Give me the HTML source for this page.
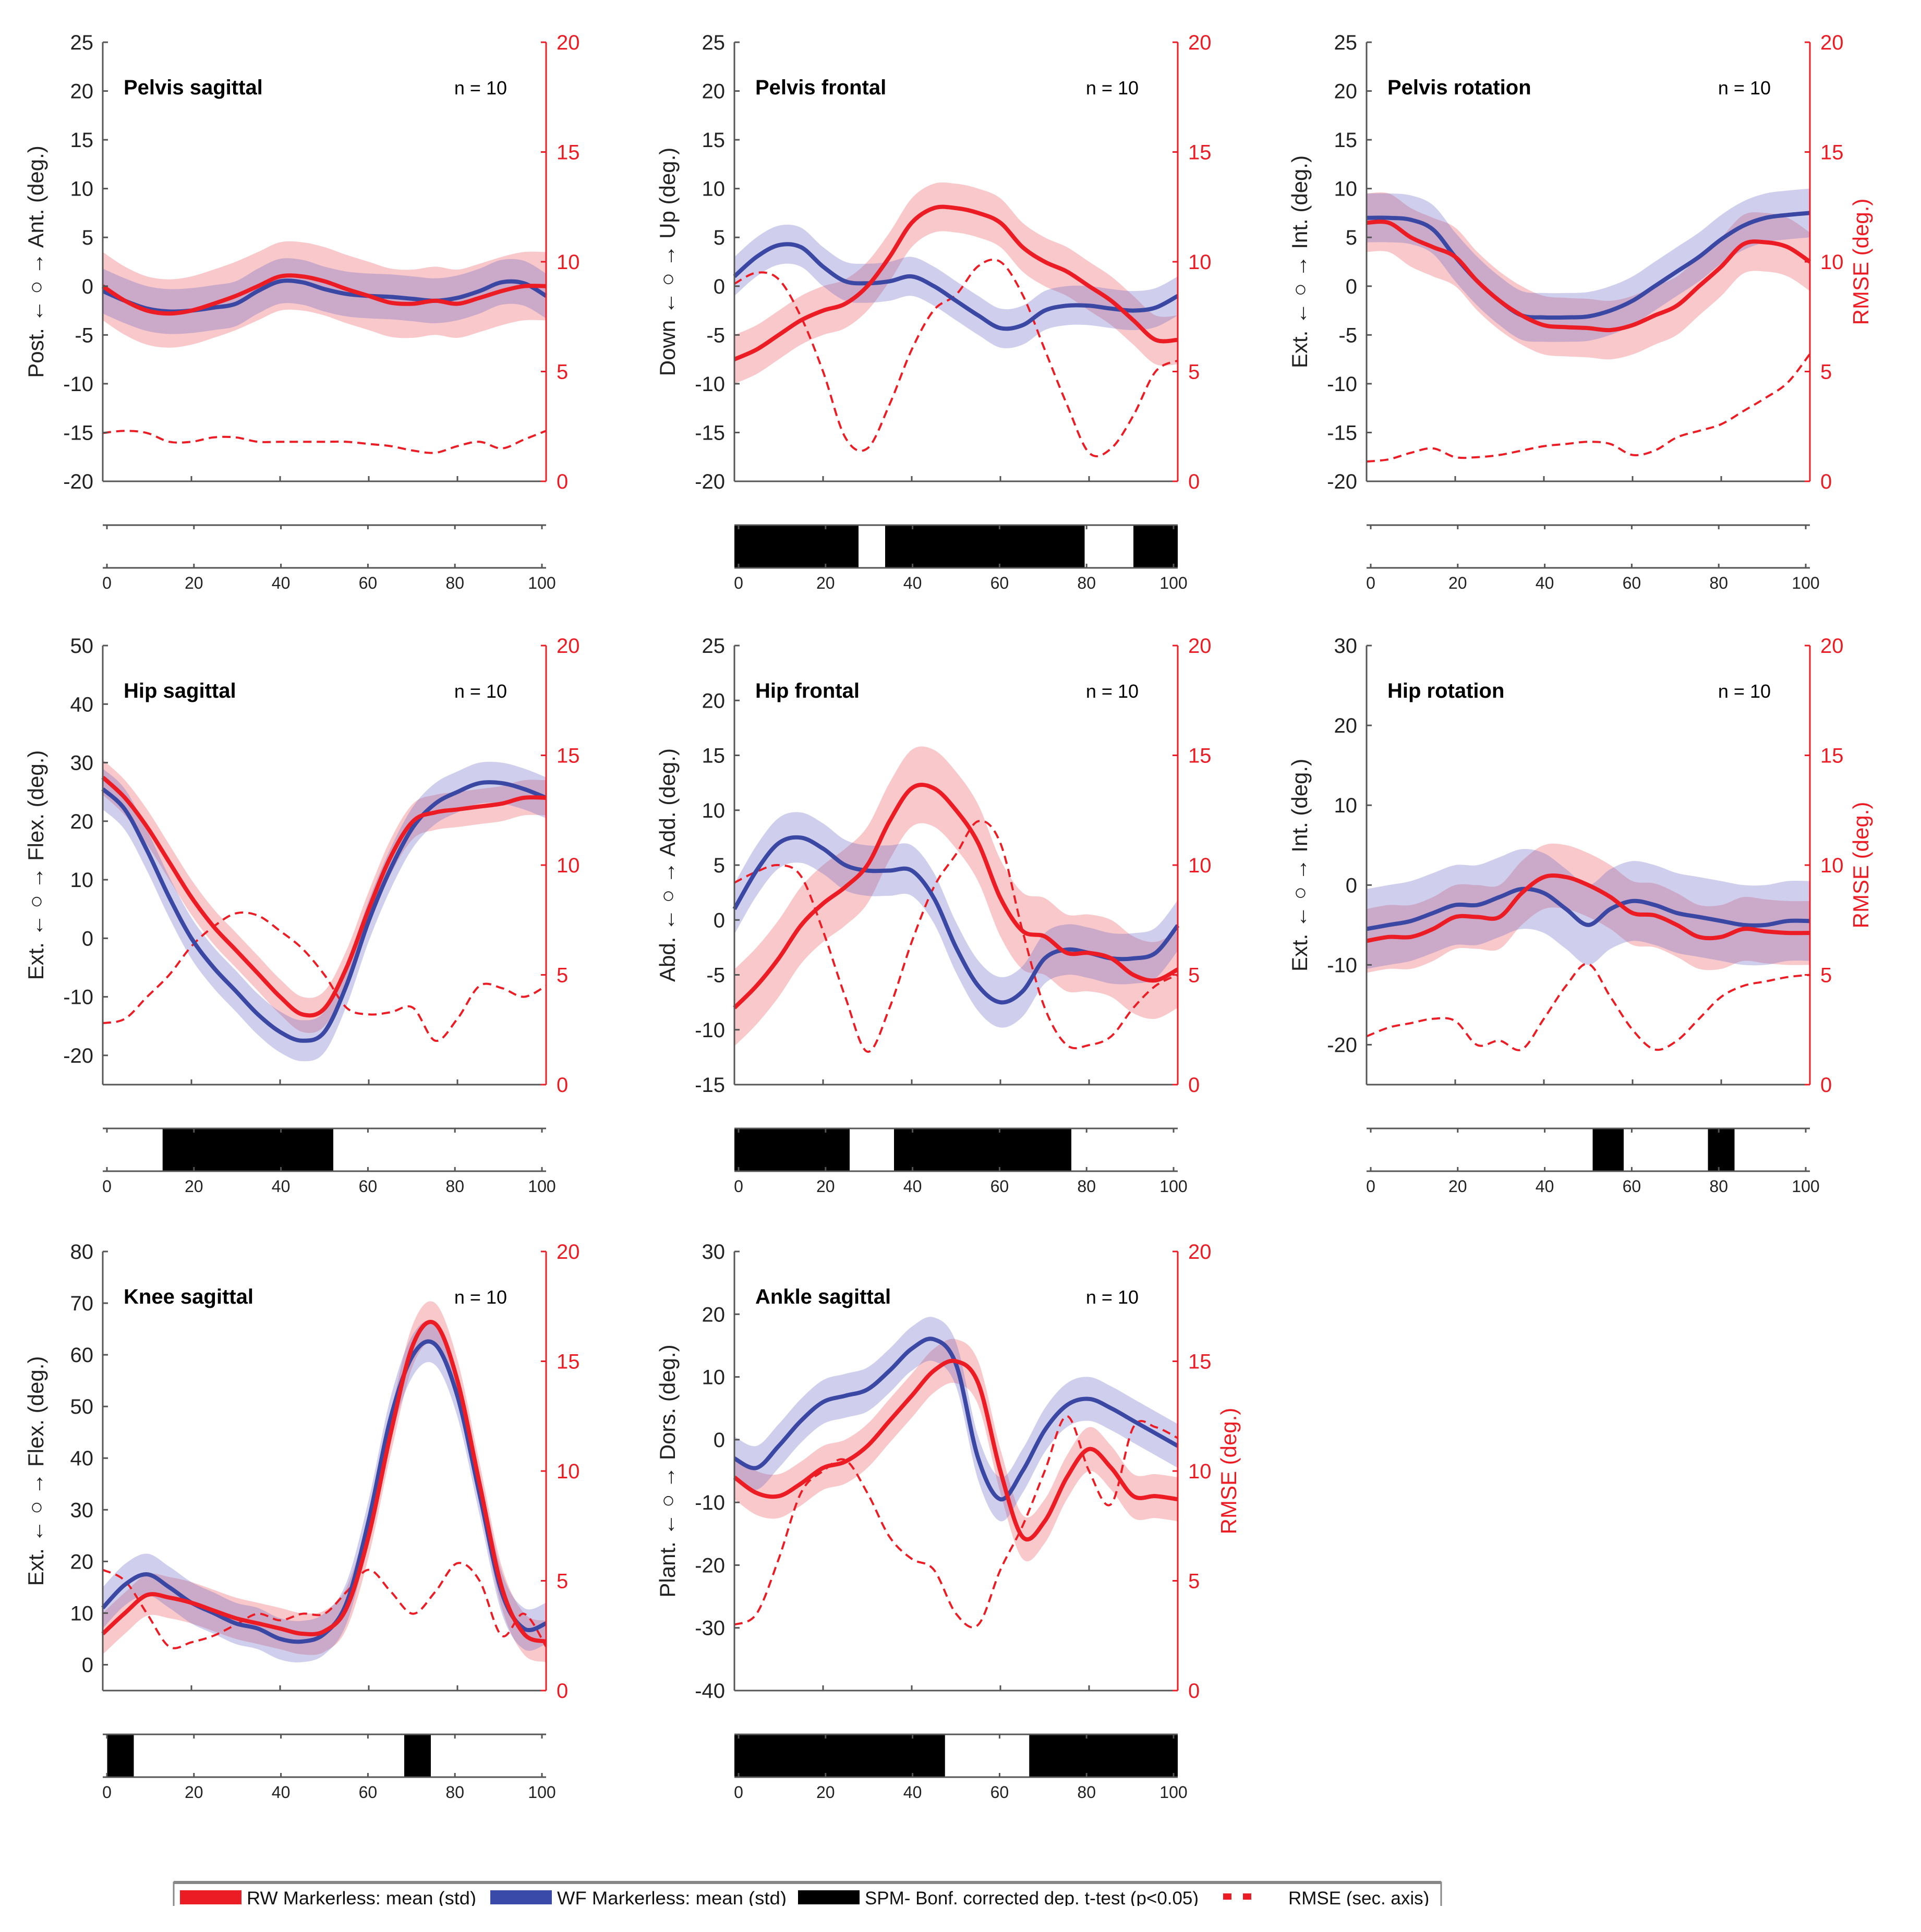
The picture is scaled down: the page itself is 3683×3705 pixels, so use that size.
<!DOCTYPE html>
<html><head><meta charset="utf-8"><style>
html,body{margin:0;padding:0;background:#fff}
svg{display:block}
text{font-family:"Liberation Sans",sans-serif}
</style></head><body>
<svg id="c" width="3683" height="3705" viewBox="0 0 3683 3705" xmlns="http://www.w3.org/2000/svg"></svg>
<script>
const xs=[0,5,10,15,20,25,30,35,40,45,50,55,60,65,70,75,80,85,90,95,100];
const titles=["Pelvis sagittal","Pelvis frontal","Pelvis rotation","Hip sagittal","Hip frontal","Hip rotation","Knee sagittal","Ankle sagittal"];
const ylabels=["Post. ← ○ → Ant. (deg.)","Down ← ○ → Up  (deg.)","Ext. ← ○ → Int.  (deg.)","Ext. ← ○ → Flex. (deg.)","Abd. ← ○ → Add. (deg.)","Ext. ← ○ → Int. (deg.)","Ext. ← ○ → Flex. (deg.)","Plant. ← ○ → Dors. (deg.)"];
const yranges=[[-20,25,5],[-20,25,5],[-20,25,5],[-25,50,10],[-15,25,5],[-25,30,10],[-5,80,10],[-40,30,10]];
const redMean=[
[0,-1.5,-2.5,-2.8,-2.5,-1.8,-1,0,1,1,0.5,-0.3,-1,-1.7,-1.8,-1.5,-1.8,-1.2,-0.5,0,0],
[-7.5,-6.5,-5,-3.5,-2.5,-1.8,0,3,6.5,8,8,7.5,6.5,4,2.5,1.5,0,-1.5,-3.5,-5.5,-5.5],
[6.5,6.5,5,4,3,0.5,-1.5,-3,-4,-4.2,-4.3,-4.5,-4,-3,-2,0,2,4.3,4.5,4,2.5],
[27.5,24,19,13,7,2,-2,-6,-10,-13,-12,-5,5,14,20,21.5,22,22.5,23,24,24],
[-8,-6,-3.5,-0.5,1.5,3,5,9,12,12,10,7,2,-1,-1.5,-3,-3,-3.5,-5,-5.5,-4.5],
[-7,-6.5,-6.5,-5.5,-4,-4,-4,-1,1,1,0,-1.5,-3.5,-3.8,-5,-6.5,-6.5,-5.5,-5.8,-6,-6],
[6,10,13.5,13,12,10.5,9,8,7,6,6.5,11,25,45,62,66,55,35,15,6,4.5],
[-6,-8.5,-9,-7,-4.5,-3.5,-1,3,7,11,12.5,9,-5,-15.5,-13,-6,-1.5,-4.5,-9,-9,-9.5]];
const redStd=[3.5,2.5,3,3,3.5,4,4,3.5];
const blueMean=[
[-0.5,-1.5,-2.3,-2.6,-2.5,-2.2,-1.8,-0.5,0.5,0.4,-0.3,-0.8,-1,-1.1,-1.3,-1.5,-1.2,-0.5,0.4,0.3,-1],
[1,3,4.2,4,2,0.5,0.3,0.5,1,0,-1.5,-3,-4.3,-4,-2.5,-2,-2,-2.3,-2.5,-2.2,-1],
[7,7,6.8,5.8,3,0.5,-1.5,-3,-3.2,-3.2,-3.1,-2.5,-1.5,0,1.5,3,4.8,6.2,7,7.3,7.5],
[25.5,22,15,7,0,-5,-9,-13,-16,-17.5,-16,-8,3,12,19,23,25,26.5,26.5,25.5,24],
[1,4.5,7,7.5,6.5,5,4.5,4.5,4.5,2,-2.5,-6,-7.5,-6.5,-3.5,-2.7,-3,-3.5,-3.5,-3,-0.5],
[-5.5,-5,-4.5,-3.5,-2.5,-2.5,-1.5,-0.5,-1,-3,-5,-3,-2,-2.5,-3.5,-4,-4.5,-5,-5,-4.5,-4.5],
[11,15.5,17.5,15,12,10,8,7,5,4.5,6,12,28,48,60,62,52,33,14,7,8],
[-3,-4.5,-1,3,6,7,8,11,14.5,16,12,-3,-9.5,-5,1.5,5.5,6.5,5,3,1,-1]];
const blueStd=[2.3,2,2.5,3.5,2.3,5,4,3.5];
const rmse=[
[2.2,2.3,2.2,1.8,1.8,2,2,1.8,1.8,1.8,1.8,1.8,1.7,1.6,1.4,1.3,1.6,1.8,1.5,1.9,2.3],
[9,9.5,9.2,7.5,5,2,1.5,3.5,6,7.8,8.5,9.8,10,8.5,6,3.5,1.3,1.5,3,5,5.5],
[0.9,1,1.3,1.5,1.1,1.1,1.2,1.4,1.6,1.7,1.8,1.7,1.2,1.4,2,2.3,2.6,3.2,3.8,4.5,5.8],
[2.8,3,4,5,6.3,7.2,7.8,7.7,7,6.2,5,3.5,3.2,3.3,3.5,2,3,4.5,4.4,4,4.5],
[9.2,9.7,10,9.5,7,4,1.5,3.5,6.5,9,10.5,12,11,7,3.5,1.8,1.8,2.2,3.5,4.5,5],
[2.2,2.6,2.8,3,2.9,1.8,2,1.6,3,4.5,5.5,4,2.5,1.6,2,3,4,4.5,4.7,4.9,5],
[5.5,5,3.5,2,2.2,2.5,3,3.5,3.2,3.5,3.5,4.5,5.5,4.5,3.5,4.5,5.8,5,2.5,3.5,2],
[3,3.5,6,9,10,10.5,9,7,6,5.5,3.5,3,5.5,7.5,10,12.5,10,8.5,12,12,11.5]];
const sig=[[],[[0,28],[34,79],[90,100]],[],[[13.5,52]],[[0,26],[36,76]],[[51,58],[77,83]],[[1,7],[68,74]],[[0,47.5],[66.5,100]]];
const rmseLabel=[false,false,true,false,false,true,false,true];

const NS="http://www.w3.org/2000/svg";
const svg=document.getElementById('c');
function mk(tag,attrs,parent,txt){const e=document.createElementNS(NS,tag);for(const k in attrs)e.setAttribute(k,attrs[k]);if(txt!==undefined)e.textContent=txt;(parent||svg).appendChild(e);return e;}
function smooth(pts){let d="M"+pts[0][0]+","+pts[0][1];for(let i=0;i<pts.length-1;i++){const p0=pts[Math.max(0,i-1)],p1=pts[i],p2=pts[i+1],p3=pts[Math.min(pts.length-1,i+2)];const c1=[p1[0]+(p2[0]-p0[0])/6,p1[1]+(p2[1]-p0[1])/6],c2=[p2[0]-(p3[0]-p1[0])/6,p2[1]-(p3[1]-p1[1])/6];d+=" C"+c1[0].toFixed(1)+","+c1[1].toFixed(1)+" "+c2[0].toFixed(1)+","+c2[1].toFixed(1)+" "+p2[0].toFixed(1)+","+p2[1].toFixed(1);}return d;}
function smoothCont(pts){return smooth(pts).replace(/^M/,"L");}
const colL=[197,1408,2620],colW=850;
const rowT=[81,1238,2400],rowH=842;
const RED="#ec1c24",BLUE="#3a48a4",GR="#555";
for(let p=0;p<8;p++){
  const L=colL[p%3],T=rowT[Math.floor(p/3)],R=L+colW,B=T+rowH;
  const g=mk('g',{},svg);
  
  
  const [y0,y1,st]=yranges[p];
  const X=v=>L+v/100*colW, Y=v=>B-(v-y0)/(y1-y0)*rowH, Y2=v=>B-v/20*rowH;
  function band(mean,sd,fill,name){const up=xs.map((x,i)=>[X(x),Y(mean[i]+sd)]),lo=xs.map((x,i)=>[X(x),Y(mean[i]-sd)]).reverse();const e=mk('path',{d:smooth(up)+" "+smoothCont(lo)+" Z",fill:fill},g);}
  band(redMean[p],redStd[p],"rgba(240,110,115,0.38)",'rw-std-band');
  band(blueMean[p],blueStd[p],"rgba(110,110,200,0.33)",'wf-std-band');
  let e=mk('path',{d:smooth(xs.map((x,i)=>[X(x),Y2(rmse[p][i])])),fill:'none',stroke:RED,'stroke-width':4,'stroke-dasharray':'16,10'},g);
  
  e=mk('path',{d:smooth(xs.map((x,i)=>[X(x),Y(blueMean[p][i])])),fill:'none',stroke:BLUE,'stroke-width':8},g);
  
  e=mk('path',{d:smooth(xs.map((x,i)=>[X(x),Y(redMean[p][i])])),fill:'none',stroke:RED,'stroke-width':8},g);
  
  mk('line',{x1:L,y1:T,x2:L,y2:B,stroke:GR,'stroke-width':3},g);
  mk('line',{x1:L,y1:B,x2:R,y2:B,stroke:GR,'stroke-width':3},g);
  mk('line',{x1:R,y1:T,x2:R,y2:B,stroke:RED,'stroke-width':3},g);
  for(let v=Math.ceil(y0/st)*st;v<=y1+1e-9;v+=st){const y=Y(v);mk('line',{x1:L,y1:y,x2:L+10,y2:y,stroke:GR,'stroke-width':3},g);
    e=mk('text',{x:L-18,y:y+14,'text-anchor':'end','font-size':40,fill:'#222'},g,String(v));}
  for(let v=0;v<=20;v+=5){const y=Y2(v);mk('line',{x1:R,y1:y,x2:R-10,y2:y,stroke:RED,'stroke-width':3},g);
    e=mk('text',{x:R+20,y:y+14,'font-size':40,fill:RED},g,String(v));}
  for(let v=20;v<100;v+=20){mk('line',{x1:X(v),y1:B,x2:X(v),y2:B-10,stroke:GR,'stroke-width':3},g);}
  e=mk('text',{x:L+40,y:T+100,'font-size':40,'font-weight':'bold',fill:'#000'},g,titles[p]);
  e=mk('text',{x:R-75,y:T+100,'font-size':36,'text-anchor':'end',fill:'#000'},g,"n = 10");
  const lx=L-114,ly=T+rowH/2;
  e=mk('text',{x:lx,y:ly,'font-size':42,'text-anchor':'middle',fill:'#222',transform:`rotate(-90 ${lx} ${ly})`},g,ylabels[p]);
  if(rmseLabel[p]){const rx=R+112;e=mk('text',{x:rx,y:ly,'font-size':42,'text-anchor':'middle',fill:RED,transform:`rotate(-90 ${rx} ${ly})`},g,"RMSE (deg.)");}
  const sT=B+84,sB=B+166;
  for(const s of sig[p]){e=mk('rect',{x:X(s[0]),y:sT,width:X(s[1])-X(s[0]),height:sB-sT,fill:'#000'},g);}
  mk('line',{x1:L,y1:sT,x2:R,y2:sT,stroke:GR,'stroke-width':3},g);
  mk('line',{x1:L,y1:sB,x2:R,y2:sB,stroke:GR,'stroke-width':3},g);
  for(let v=0;v<=100;v+=20){const x=L+8+v/100*(colW-16);mk('line',{x1:x,y1:sT,x2:x,y2:sT+8,stroke:GR,'stroke-width':3},g);mk('line',{x1:x,y1:sB,x2:x,y2:sB-8,stroke:GR,'stroke-width':3},g);
    e=mk('text',{x:x,y:sB+40,'font-size':32,'text-anchor':'middle',fill:'#222'},g,String(v));}
}
const lg=mk('g',{},svg);


mk('rect',{x:333,y:3610,width:2430,height:60,fill:'#fff',stroke:'#888','stroke-width':3},lg);
mk('line',{x1:333,y1:3610,x2:2763,y2:3610,stroke:'#888','stroke-width':6},lg);
const items=[[345,'#ec1c24','RW Markerless: mean (std)',118],[940,'#3a4aa8','WF Markerless: mean (std)',118],[1530,'#000','SPM- Bonf. corrected dep. t-test (p<0.05)',118]];
for(const it of items){mk('rect',{x:it[0],y:3625,width:it[3],height:27,fill:it[1]},lg);
  const t=mk('text',{x:it[0]+128,y:3652,'font-size':35,fill:'#111',textLength:it[2].length>30?640:440,lengthAdjust:'spacingAndGlyphs'},lg,it[2]);}
mk('line',{x1:2345,y1:3637,x2:2410,y2:3637,stroke:'#ec1c24','stroke-width':12,'stroke-dasharray':'16,22'},lg);
const t=mk('text',{x:2470,y:3652,'font-size':35,fill:'#111'},lg,'RMSE (sec. axis)');
mk('rect',{x:0,y:3655,width:3683,height:50,fill:'#fff'},svg);
</script>
</body></html>
